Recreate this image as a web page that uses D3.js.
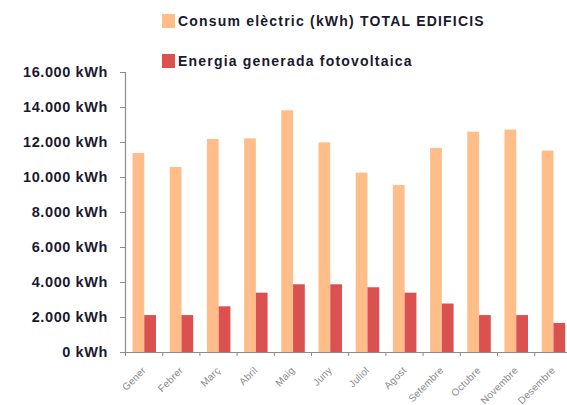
<!DOCTYPE html>
<html lang="en">
<head>
<meta charset="UTF-8">
<title>Consum i generació</title>
<script src="https://cdn.jsdelivr.net/npm/d3@7"></script>
<style>
  body { margin: 0; background: #fff; }
  svg { display: block; }
</style>
</head>
<body>
<svg width="567" height="405"></svg>
<script>
// months (categories)
var months = ["Gener", "Febrer", "Març", "Abril", "Maig", "Juny", "Juliol", "Agost", "Setembre", "Octubre", "Novembre", "Desembre"];
// series names
var seriesNames = ["Consum elèctric (kWh) TOTAL EDIFICIS", "Energia generada fotovoltaica"];
// values (kWh)
var consum = [11370, 10570, 12170, 12210, 13810, 11980, 10250, 9540, 11660, 12590, 12710, 11510];
var fotovoltaica = [2110, 2110, 2610, 3390, 3870, 3870, 3700, 3390, 2770, 2110, 2110, 1660];
var yTicks = [0, 2000, 4000, 6000, 8000, 10000, 12000, 14000, 16000];

var colors = ["#FFBD8A", "#DB5150"];

var svg = d3.select("svg");
var plotLeft = 125, plotBottom = 352, plotTop = 72;
var step = 37.2;

var y = d3.scaleLinear().domain([0, 16000]).range([plotBottom, plotTop]);
var x = d3.scaleBand().domain(months).range([plotLeft, plotLeft + step * months.length]);
var x1 = d3.scaleBand().domain(seriesNames).range([7.5, 31]);
var color = d3.scaleOrdinal().domain(seriesNames).range(colors);

var loc = d3.formatLocale({decimal: ",", thousands: ".", grouping: [3], currency: ["", ""]});
var fmt = loc.format(",");

var rows = months.map(function(m, i) {
  return {month: m, values: [
    {name: seriesNames[0], value: consum[i]},
    {name: seriesNames[1], value: fotovoltaica[i]}
  ]};
});

// bars
svg.append("g").selectAll("g")
  .data(rows)
  .join("g")
  .attr("transform", function(d) { return "translate(" + x(d.month) + ",0)"; })
  .selectAll("rect")
  .data(function(d) { return d.values; })
  .join("rect")
  .attr("x", function(d) { return x1(d.name); })
  .attr("width", x1.bandwidth())
  .attr("y", function(d) { return y(d.value); })
  .attr("height", function(d) { return plotBottom - y(d.value); })
  .attr("fill", function(d) { return color(d.name); });

// y axis
var yAxis = svg.append("g")
  .attr("transform", "translate(" + plotLeft + ",0)")
  .call(d3.axisLeft(y).tickValues(yTicks).tickSize(5).tickPadding(12)
    .tickFormat(function(d) { return fmt(d) + " kWh"; }));
yAxis.select(".domain").attr("stroke", "#8c8c8c").attr("stroke-width", 1.2);
yAxis.selectAll(".tick line").attr("stroke", "#8c8c8c");
yAxis.selectAll("text")
  .attr("font-family", "Liberation Sans, Arial, sans-serif")
  .attr("font-size", 14.5)
  .attr("font-weight", "bold")
  .attr("letter-spacing", 0.6)
  .attr("fill", "#1a1a2e");

// x axis (ticks at category boundaries)
var xb = d3.scaleLinear().domain([0, months.length]).range(x.range());
var xAxis = svg.append("g")
  .attr("transform", "translate(0," + plotBottom + ")")
  .call(d3.axisBottom(xb).ticks(months.length).tickSize(4).tickFormat(""));
xAxis.select(".domain").attr("stroke", "#8c8c8c").attr("stroke-width", 1.2);
xAxis.selectAll(".tick line").attr("stroke", "#8c8c8c");

// month labels
svg.append("g").selectAll("text")
  .data(months)
  .join("text")
  .attr("transform", function(d) { return "translate(" + (x(d) + x.bandwidth() / 2 + 3) + "," + (plotBottom + 19) + ") rotate(-45)"; })
  .attr("text-anchor", "end")
  .attr("font-family", "Liberation Sans, Arial, sans-serif")
  .attr("font-size", 10)
  .attr("letter-spacing", 0.2)
  .attr("fill", "#8a8a8a")
  .text(function(d) { return d; });

// legend
var legend = svg.append("g").selectAll("g")
  .data(seriesNames)
  .join("g")
  .attr("transform", function(d, i) { return "translate(162," + (14 + i * 40) + ")"; });
legend.append("rect")
  .attr("width", 13)
  .attr("height", 14)
  .attr("fill", function(d) { return color(d); });
legend.append("text")
  .attr("x", 16)
  .attr("y", 12)
  .attr("font-family", "Liberation Sans, Arial, sans-serif")
  .attr("font-size", 14)
  .attr("font-weight", "bold")
  .attr("letter-spacing", 1.2)
  .attr("fill", "#1a1a2e")
  .text(function(d) { return d; });
</script>
</body>
</html>
